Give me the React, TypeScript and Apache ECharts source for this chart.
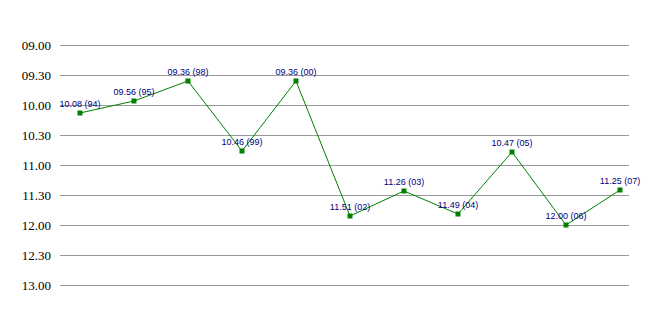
import React, { useEffect, useRef } from "react";
import * as echarts from "echarts";

const years = ["94", "95", "98", "99", "00", "02", "03", "04", "05", "06", "07"];
const times = ["10.08", "09.56", "09.36", "10.46", "09.36", "11.51", "11.26", "11.49", "10.47", "12.00", "11.25"];
const yMin = 540; // 09.00
const yMax = 780; // 13.00
const yStep = 30;

const toMinutes = (t: string) => {
  const [h, m] = t.split(".").map(Number);
  return h * 60 + m;
};
const fmt = (v: number) => {
  const h = Math.floor(v / 60);
  const m = v % 60;
  return String(h).padStart(2, "0") + "." + String(m).padStart(2, "0");
};

export default function App() {
  const ref = useRef<HTMLDivElement>(null);
  useEffect(() => {
    document.body.style.margin = "0";
    const chart = echarts.init(ref.current!, null, { renderer: "svg" });
    const data = times.map((t, i) => ({
      value: [i, toMinutes(t)],
      label: t + " (" + years[i] + ")",
    }));
    chart.setOption({
      animation: false,
      backgroundColor: "#ffffff",
      grid: { left: 60, right: 39, top: 45, bottom: 30 },
      xAxis: {
        type: "value",
        min: -0.37,
        max: 10.167,
        show: false,
      },
      yAxis: {
        type: "value",
        inverse: true,
        min: yMin,
        max: yMax,
        interval: yStep,
        axisLine: { show: false },
        axisTick: { show: false },
        axisLabel: {
          formatter: (v: number) => fmt(v),
          fontFamily: "Liberation Sans Narrow",
          fontSize: 13,
          color: "#000000",
          margin: 9,
        },
        splitLine: { lineStyle: { color: "#999999", width: 1 } },
      },
      series: [
        {
          type: "line",
          data,
          symbol: "rect",
          symbolSize: 5,
          itemStyle: { color: "#008000" },
          lineStyle: { color: "#008000", width: 1 },
          label: {
            show: true,
            position: "top",
            distance: 2,
            formatter: (p: any) => p.data.label,
            fontFamily: "Liberation Sans, Arial, sans-serif",
            fontSize: 9,
            color: "#000080",
          },
        },
      ],
    });
    return () => chart.dispose();
  }, []);
  return <div ref={ref} style={{ width: 668, height: 315 }} />;
}
